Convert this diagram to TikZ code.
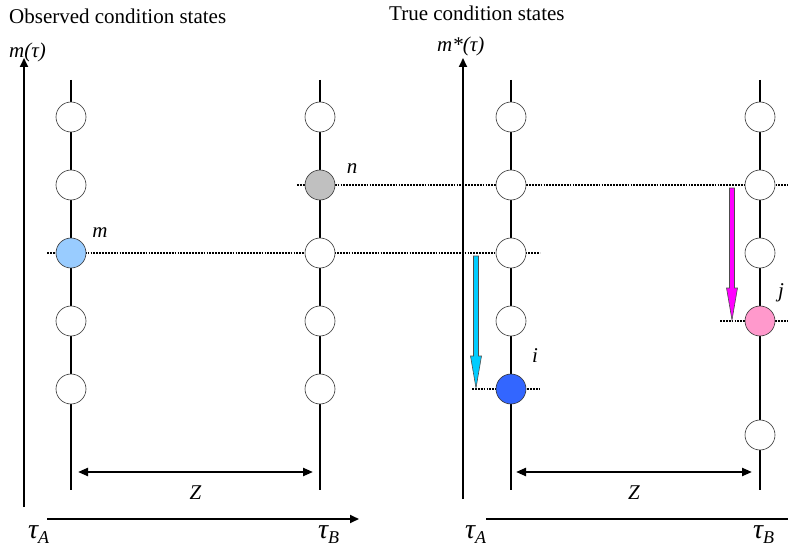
\documentclass[tikz,border=0pt]{standalone}
\usepackage{fontspec}
\setmainfont{Liberation Serif}
\usepackage{xcolor}
\definecolor{obsazul}{RGB}{153, 204, 255}
\definecolor{obsgris}{RGB}{192, 192, 192}
\definecolor{verazul}{RGB}{51, 102, 255}
\definecolor{verrosa}{RGB}{255, 153, 204}
\definecolor{flechacian}{RGB}{0, 204, 255}
\definecolor{flechamag}{RGB}{255, 0, 255}
\usetikzlibrary{arrows.meta, calc}

% flecha de bloque vertical: inicio, punta, color
\newcommand{\flechabloque}[3]{%
  \draw[draw=black!70, line width=0.6pt, fill=#3]
    ($(#1)+(-2.5,0)$) -- ($(#2)+(-2.5,-32)$) -- ($(#2)+(-5.5,-32)$) -- (#2)
    -- ($(#2)+(5.5,-32)$) -- ($(#2)+(2.5,-32)$) -- ($(#1)+(2.5,0)$) -- cycle;}
% tiempo con subindice
\newcommand{\tiempo}[1]{τ\raisebox{-5pt}{\fontsize{18}{20}\selectfont #1}}

\begin{document}
\begin{tikzpicture}[x=1pt, y=-1pt,
    state/.style={circle, draw=black!80, fill=white, minimum size=30pt, inner sep=0pt, line width=0.6pt},
    barra/.style={line width=2.8pt, black},
    nivel/.style={line width=2.8pt, dash pattern=on 1.8pt off 1.1pt, black},
    eje/.style={line width=1.8pt, -{Triangle[length=9pt, width=8pt]}},
    intervalo/.style={line width=2.2pt, {Triangle[length=10pt, width=8pt]}-{Triangle[length=10pt, width=8pt]}},
    etiq/.style={font=\fontsize{21}{24}\selectfont\itshape, inner sep=0pt, anchor=base},
    eti/.style={font=\fontsize{28}{30}\selectfont\itshape, inner sep=0pt, anchor=base west},
    titulo/.style={font=\fontsize{21}{24}\selectfont, anchor=base west, inner sep=0pt}
  ]
  \useasboundingbox (0,0) rectangle (788,551);

  % Titulos
  \node[titulo] (tobs) at (9,24) {Observed condition states};
  \node[titulo] (tver) at (389,21) {True condition states};

  % Coordenadas de barras y ejes
  \coordinate (oAtop) at (71,80);   \coordinate (oAbot) at (71,490);
  \coordinate (oBtop) at (320,80);  \coordinate (oBbot) at (320,490);
  \coordinate (vAtop) at (511,80);  \coordinate (vAbot) at (511,490);
  \coordinate (vBtop) at (760,80);  \coordinate (vBbot) at (760,490);
  \coordinate (ejeL0) at (24,507);  \coordinate (ejeL1) at (24,58);
  \coordinate (ejeR0) at (463,499); \coordinate (ejeR1) at (463,58);
  \coordinate (tL0) at (47,519);    \coordinate (tL1) at (359,519);
  \coordinate (tR0) at (486,519);   \coordinate (tR1) at (788,519);

  % Lineas de nivel (punteadas)
  \coordinate (nm0) at (47,253);   \coordinate (nm1) at (540,253);
  \coordinate (nn0) at (297,185);  \coordinate (nn1) at (788,185);
  \coordinate (ni0) at (472,389);  \coordinate (ni1) at (540,389);
  \coordinate (nj0) at (720,321);  \coordinate (nj1) at (788,321);
  \draw[nivel] (nm0) -- (nm1);
  \draw[nivel] (nn0) -- (nn1);
  \draw[nivel] (ni0) -- (ni1);
  \draw[nivel] (nj0) -- (nj1);

  % Barras y ejes
  \draw[barra] (oAtop) -- (oAbot);
  \draw[barra] (oBtop) -- (oBbot);
  \draw[barra] (vAtop) -- (vAbot);
  \draw[barra] (vBtop) -- (vBbot);
  \draw[eje] (ejeL0) -- (ejeL1);
  \draw[eje] (ejeR0) -- (ejeR1);
  \draw[eje] (tL0) -- (tL1);
  \draw[line width=1.8pt] (tR0) -- (tR1);

  % Estados observados
  \foreach \k/\y in {1/117, 2/185, 4/321, 5/389} \node[state] (oa\k) at (71,\y) {};
  \node[state, fill=obsazul] (oa3) at (71,253) {};
  \foreach \k/\y in {1/117, 3/253, 4/321, 5/389} \node[state] (ob\k) at (320,\y) {};
  \node[state, fill=obsgris] (ob2) at (320,185) {};

  % Estados verdaderos
  \foreach \k/\y in {1/117, 2/185, 3/253, 4/321} \node[state] (va\k) at (511,\y) {};
  \node[state, fill=verazul] (va5) at (511,389) {};
  \foreach \k/\y in {1/117, 2/185, 3/253, 5/435} \node[state] (vb\k) at (760,\y) {};
  \node[state, fill=verrosa] (vb4) at (760,321) {};

  % Etiquetas
  \node[etiq] (lm) at (100,237) {m};
  \node[etiq] (ln) at (352,173) {n};
  \node[etiq] (li) at (535,362) {i};
  \node[etiq] (lj) at (781,297) {j};
  \node[etiq, anchor=base west] (ymo) at (9,58) {m(τ)};
  \node[etiq, anchor=base west] (ymv) at (437,52) {m*(τ)};

  % Transiciones
  \coordinate (ci0) at (476,256); \coordinate (ci1) at (476,388);
  \coordinate (cj0) at (732,188); \coordinate (cj1) at (732,320);
  \flechabloque{ci0}{ci1}{flechacian}
  \flechabloque{cj0}{cj1}{flechamag}

  % Intervalos Z
  \coordinate (zL0) at (78,472);  \coordinate (zL1) at (313,472);
  \coordinate (zR0) at (516,472); \coordinate (zR1) at (752,472);
  \draw[intervalo] (zL0) -- (zL1);
  \draw[intervalo] (zR0) -- (zR1);
  \node[etiq] (zl) at ($(zL0)!0.5!(zL1)+(0,27)$) {Z};
  \node[etiq] (zr) at ($(zR0)!0.5!(zR1)+(0,27)$) {Z};

  % Tiempos
  \node[eti] (tAo) at (28,538) {\tiempo{A}};
  \node[eti] (tBo) at (318,538) {\tiempo{B}};
  \node[eti] (tAv) at (465,538) {\tiempo{A}};
  \node[eti] (tBv) at (753,538) {\tiempo{B}};
\end{tikzpicture}
\end{document}
